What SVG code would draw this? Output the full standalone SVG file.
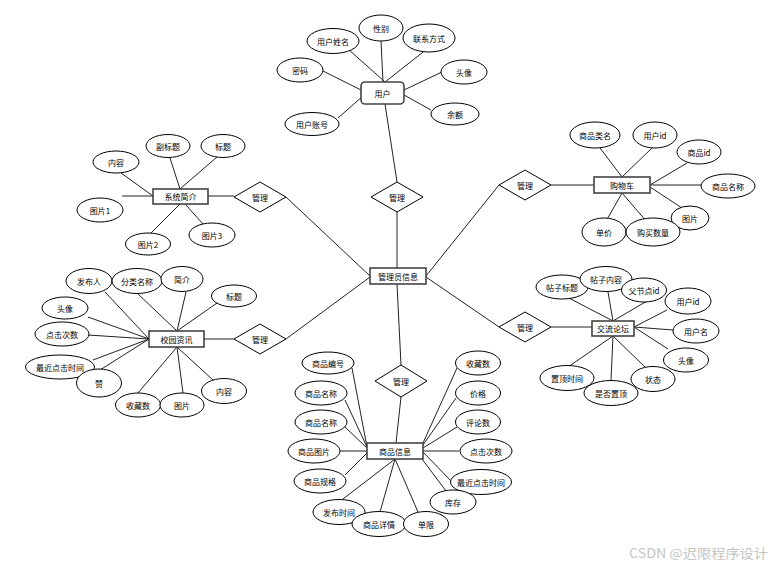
<svg xmlns="http://www.w3.org/2000/svg" width="777" height="566" viewBox="0 0 777 566">
<style>
.c line{stroke:#222;stroke-width:1;fill:none}
ellipse{fill:#fff;stroke:#000;stroke-width:1}
.ent{fill:#fff;stroke:#444;stroke-width:1.6}
.rel{fill:#fff;stroke:#000;stroke-width:1}
text{font-family:"Noto Sans CJK SC","Noto Sans",sans-serif;font-size:8px;fill:#000;text-anchor:middle;dominant-baseline:central}
.wm{font-size:13px;fill:#c4c4c4;text-anchor:start}
</style>
<rect width="777" height="566" fill="#fff"/>
<g id="connectors" class="c">
<line x1="397" y1="268" x2="397" y2="212"/>
<line x1="370" y1="276" x2="286" y2="197"/>
<line x1="370" y1="277" x2="286" y2="339"/>
<line x1="426" y1="276" x2="499" y2="185"/>
<line x1="426" y1="277" x2="499" y2="327"/>
<line x1="397" y1="284" x2="401" y2="365"/>
<line x1="397" y1="182" x2="385" y2="104"/>
<line x1="208" y1="196" x2="234" y2="196"/>
<line x1="204" y1="339" x2="234" y2="339"/>
<line x1="551" y1="185" x2="594" y2="185"/>
<line x1="551" y1="327" x2="592" y2="327"/>
<line x1="401" y1="397" x2="396" y2="443"/>
<line x1="348" y1="49" x2="385" y2="82"/>
<line x1="381" y1="41" x2="383" y2="82"/>
<line x1="427" y1="49" x2="385" y2="82"/>
<line x1="323" y1="71" x2="361" y2="90"/>
<line x1="338" y1="118" x2="363" y2="96"/>
<line x1="442" y1="72" x2="404" y2="90"/>
<line x1="431" y1="110" x2="404" y2="95"/>
<line x1="121" y1="173" x2="153" y2="196"/>
<line x1="170" y1="158" x2="180" y2="189"/>
<line x1="217" y1="157" x2="180" y2="189"/>
<line x1="122" y1="196" x2="153" y2="196"/>
<line x1="150" y1="234" x2="180" y2="204"/>
<line x1="203" y1="224" x2="185" y2="204"/>
<line x1="600" y1="148" x2="622" y2="177"/>
<line x1="653" y1="147" x2="622" y2="177"/>
<line x1="687" y1="163" x2="650" y2="185"/>
<line x1="702" y1="185" x2="650" y2="185"/>
<line x1="682" y1="208" x2="650" y2="187"/>
<line x1="605" y1="223" x2="622" y2="193"/>
<line x1="647" y1="222" x2="622" y2="193"/>
<line x1="105" y1="292" x2="149" y2="339"/>
<line x1="137" y1="293" x2="177" y2="331"/>
<line x1="186" y1="292" x2="177" y2="331"/>
<line x1="217" y1="303" x2="177" y2="331"/>
<line x1="88" y1="317" x2="149" y2="339"/>
<line x1="88" y1="335" x2="149" y2="339"/>
<line x1="93" y1="360" x2="149" y2="339"/>
<line x1="100" y1="370" x2="149" y2="339"/>
<line x1="138" y1="393" x2="177" y2="347"/>
<line x1="183" y1="393" x2="177" y2="347"/>
<line x1="213" y1="380" x2="177" y2="347"/>
<line x1="565" y1="296" x2="613" y2="321"/>
<line x1="608" y1="292" x2="613" y2="321"/>
<line x1="647" y1="301" x2="613" y2="321"/>
<line x1="667" y1="310" x2="634" y2="327"/>
<line x1="673" y1="330" x2="634" y2="327"/>
<line x1="668" y1="349" x2="634" y2="327"/>
<line x1="645" y1="367" x2="613" y2="336"/>
<line x1="611" y1="380" x2="613" y2="336"/>
<line x1="568" y1="367" x2="613" y2="336"/>
<line x1="352" y1="368" x2="367" y2="447"/>
<line x1="345" y1="400" x2="367" y2="447"/>
<line x1="345" y1="427" x2="367" y2="448"/>
<line x1="340" y1="451" x2="367" y2="451"/>
<line x1="345" y1="475" x2="367" y2="453"/>
<line x1="343" y1="499" x2="395" y2="459"/>
<line x1="380" y1="512" x2="395" y2="459"/>
<line x1="418" y1="512" x2="395" y2="459"/>
<line x1="446" y1="491" x2="422" y2="459"/>
<line x1="452" y1="482" x2="422" y2="451"/>
<line x1="459" y1="451" x2="423" y2="451"/>
<line x1="457" y1="427" x2="423" y2="448"/>
<line x1="456" y1="398" x2="423" y2="445"/>
<line x1="457" y1="368" x2="423" y2="443"/>
</g>
<g id="admin"><rect class="ent" x="370" y="268" width="56" height="16"/><text x="398" y="276">管理员信息</text></g>
<g id="rel-user"><polygon class="rel" points="397,182 423,197 397,212 371,197"/><text x="397" y="197">管理</text></g>
<g id="rel-intro"><polygon class="rel" points="260,182 286,197 260,212 234,197"/><text x="260" y="197">管理</text></g>
<g id="rel-news"><polygon class="rel" points="260,324 286,339 260,354 234,339"/><text x="260" y="339">管理</text></g>
<g id="rel-cart"><polygon class="rel" points="525,170 551,185 525,200 499,185"/><text x="525" y="185">管理</text></g>
<g id="rel-forum"><polygon class="rel" points="525,312 551,327 525,342 499,327"/><text x="525" y="327">管理</text></g>
<g id="rel-goods"><polygon class="rel" points="401,365 427,381 401,397 375,381"/><text x="401" y="381">管理</text></g>
<g id="user">
<rect class="ent" x="361" y="82" width="43" height="22" rx="4"/><text x="382.5" y="93">用户</text>
<ellipse cx="333" cy="41" rx="26" ry="12.5"/><text x="333" y="41">用户姓名</text>
<ellipse cx="381" cy="28" rx="22" ry="13"/><text x="381" y="28">性别</text>
<ellipse cx="429" cy="38" rx="26" ry="14"/><text x="429" y="38">联系方式</text>
<ellipse cx="300" cy="70" rx="23" ry="12"/><text x="300" y="70">密码</text>
<ellipse cx="464" cy="72" rx="23" ry="12"/><text x="464" y="72">头像</text>
<ellipse cx="312" cy="124" rx="27" ry="11.5"/><text x="312" y="124">用户账号</text>
<ellipse cx="455" cy="114" rx="24" ry="11"/><text x="455" y="114">余额</text>
</g>
<g id="intro">
<rect class="ent" x="153" y="189" width="55" height="15"/><text x="180.5" y="196.5">系统简介</text>
<ellipse cx="116" cy="162" rx="23" ry="11"/><text x="116" y="162">内容</text>
<ellipse cx="168" cy="146" rx="22" ry="11.5"/><text x="168" y="146">副标题</text>
<ellipse cx="223" cy="146" rx="22" ry="11.5"/><text x="223" y="146">标题</text>
<ellipse cx="100" cy="210" rx="23" ry="12"/><text x="100" y="210">图片1</text>
<ellipse cx="148" cy="244" rx="22.5" ry="11"/><text x="148" y="244">图片2</text>
<ellipse cx="212" cy="235" rx="23" ry="12"/><text x="212" y="235">图片3</text>
</g>
<g id="cart">
<rect class="ent" x="594" y="177" width="56" height="16"/><text x="622" y="185">购物车</text>
<ellipse cx="595" cy="135" rx="25" ry="13"/><text x="595" y="135">商品类名</text>
<ellipse cx="655" cy="135" rx="22" ry="13"/><text x="655" y="135">用户id</text>
<ellipse cx="699" cy="152" rx="22" ry="12"/><text x="699" y="152">商品id</text>
<ellipse cx="728" cy="186" rx="27" ry="12"/><text x="728" y="186">商品名称</text>
<ellipse cx="690" cy="218" rx="19" ry="12"/><text x="690" y="218">图片</text>
<ellipse cx="604" cy="232" rx="22" ry="14"/><text x="604" y="232">单价</text>
<ellipse cx="653" cy="232" rx="27" ry="14"/><text x="653" y="232">购买数量</text>
</g>
<g id="news">
<rect class="ent" x="149" y="331" width="55" height="16"/><text x="176.5" y="339">校园资讯</text>
<ellipse cx="89" cy="281" rx="23" ry="12.5"/><text x="89" y="281">发布人</text>
<ellipse cx="137" cy="281" rx="25" ry="12.5"/><text x="137" y="281">分类名称</text>
<ellipse cx="182" cy="279" rx="21" ry="12.5"/><text x="182" y="279">简介</text>
<ellipse cx="234" cy="296" rx="22.5" ry="11"/><text x="234" y="296">标题</text>
<ellipse cx="65" cy="308" rx="23" ry="11"/><text x="65" y="308">头像</text>
<ellipse cx="62" cy="334" rx="27" ry="12"/><text x="62" y="334">点击次数</text>
<ellipse cx="60" cy="367" rx="34.5" ry="12"/><text x="60" y="367">最近点击时间</text>
<ellipse cx="99" cy="383" rx="22.5" ry="14"/><text x="99" y="383">赞</text>
<ellipse cx="138" cy="405" rx="22.5" ry="12"/><text x="138" y="405">收藏数</text>
<ellipse cx="182" cy="405" rx="22" ry="12"/><text x="182" y="405">图片</text>
<ellipse cx="224" cy="391" rx="22.5" ry="12.5"/><text x="224" y="391">内容</text>
</g>
<g id="forum">
<rect class="ent" x="592" y="321" width="42" height="15"/><text x="613" y="328.5">交流论坛</text>
<ellipse cx="562" cy="287" rx="26" ry="12"/><text x="562" y="287">帖子标题</text>
<ellipse cx="606" cy="279" rx="26" ry="12.5"/><text x="606" y="279">帖子内容</text>
<ellipse cx="644" cy="290" rx="22.5" ry="12"/><text x="644" y="290">父节点id</text>
<ellipse cx="688" cy="301" rx="23" ry="13"/><text x="688" y="301">用户id</text>
<ellipse cx="696" cy="331" rx="23" ry="12"/><text x="696" y="331">用户名</text>
<ellipse cx="686" cy="360" rx="22.5" ry="12"/><text x="686" y="360">头像</text>
<ellipse cx="567" cy="378" rx="27" ry="12.5"/><text x="567" y="378">置顶时间</text>
<ellipse cx="653" cy="379" rx="22" ry="12.5"/><text x="653" y="379">状态</text>
<ellipse cx="611" cy="393" rx="27" ry="12.5"/><text x="611" y="393">是否置顶</text>
</g>
<g id="goods">
<rect class="ent" x="367" y="443" width="56" height="16"/><text x="395" y="451">商品信息</text>
<ellipse cx="328" cy="363" rx="26" ry="11"/><text x="328" y="363">商品编号</text>
<ellipse cx="321" cy="393" rx="26" ry="12"/><text x="321" y="393">商品名称</text>
<ellipse cx="321" cy="422" rx="26" ry="12"/><text x="321" y="422">商品名称</text>
<ellipse cx="314" cy="451" rx="26" ry="12"/><text x="314" y="451">商品图片</text>
<ellipse cx="320" cy="481" rx="26" ry="12"/><text x="320" y="481">商品规格</text>
<ellipse cx="339" cy="512" rx="26" ry="12.5"/><text x="339" y="512">发布时间</text>
<ellipse cx="379" cy="524" rx="27" ry="12.5"/><text x="379" y="524">商品详情</text>
<ellipse cx="426" cy="524" rx="22.5" ry="12.5"/><text x="426" y="524">单限</text>
<ellipse cx="481" cy="482" rx="30.5" ry="12.5"/><text x="481" y="482">最近点击时间</text>
<ellipse cx="453" cy="502" rx="23" ry="12"/><text x="453" y="502">库存</text>
<ellipse cx="486" cy="451" rx="26" ry="12"/><text x="486" y="451">点击次数</text>
<ellipse cx="478" cy="422" rx="22.5" ry="12"/><text x="478" y="422">评论数</text>
<ellipse cx="478" cy="393" rx="22.5" ry="12"/><text x="478" y="393">价格</text>
<ellipse cx="478" cy="363" rx="22.5" ry="12"/><text x="478" y="363">收藏数</text>
</g>
<text class="wm" x="629" y="552" textLength="139" lengthAdjust="spacingAndGlyphs">CSDN @迟限程序设计</text>
</svg>
